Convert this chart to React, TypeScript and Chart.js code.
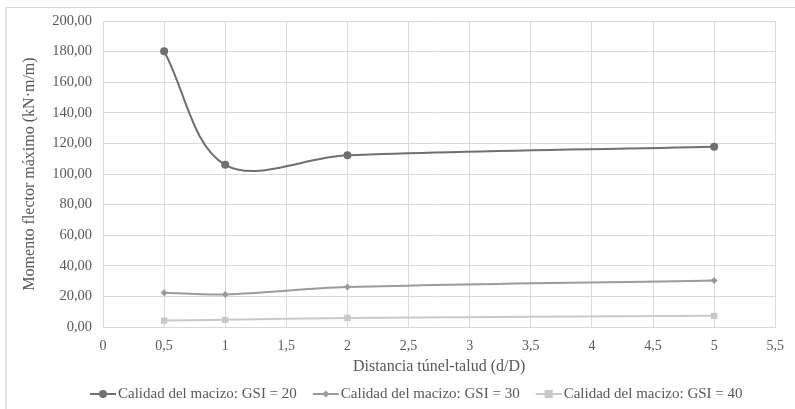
import React, { useEffect, useRef } from "react";
import { Chart, registerables } from "chart.js";

Chart.register(...registerables);

const distances = [0.5, 1, 2, 5];
const seriesNames = [
  "Calidad del macizo: GSI = 20",
  "Calidad del macizo: GSI = 30",
  "Calidad del macizo: GSI = 40",
];
const gsi20 = [180.2, 106.0, 112.2, 117.8];
const gsi30 = [22.4, 21.3, 26.1, 30.4];
const gsi40 = [4.2, 4.7, 5.9, 7.3];
const xTitle = "Distancia túnel-talud (d/D)";
const yTitle = "Momento flector máximo (kN·m/m)";

const FONT = "'Liberation Serif', 'Times New Roman', serif";
const TEXT = "#595959";
const GRID = "#d9d9d9";

const colors = ["#707070", "#9b9b9b", "#c9c9c9"];
const pointStyles = ["circle", "rectRot", "rect"];
const pointRadii = [4, 3.5, 4.5];

const legendPlugin = {
  id: "customLegend",
  afterDraw(chart: any) {
    const ctx = chart.ctx;
    ctx.save();
    ctx.font = "15px \"Liberation Serif\", serif";
    ctx.textBaseline = "middle";
    const y = 394;
    let x = 90;
    chart.data.datasets.forEach((ds: any) => {
      const lineLen = 26;
      ctx.strokeStyle = ds.borderColor;
      ctx.lineWidth = 2;
      ctx.beginPath();
      ctx.moveTo(x, y);
      ctx.lineTo(x + lineLen, y);
      ctx.stroke();
      ctx.fillStyle = ds.pointBackgroundColor;
      const r = ds.pointRadius;
      const cx = x + lineLen / 2;
      ctx.beginPath();
      if (ds.pointStyle === "circle") {
        ctx.arc(cx, y, r, 0, Math.PI * 2);
      } else if (ds.pointStyle === "rectRot") {
        ctx.moveTo(cx, y - r);
        ctx.lineTo(cx + r, y);
        ctx.lineTo(cx, y + r);
        ctx.lineTo(cx - r, y);
        ctx.closePath();
      } else {
        const s = r * 0.9;
        ctx.rect(cx - s, y - s, 2 * s, 2 * s);
      }
      ctx.fill();
      x += lineLen + 2;
      ctx.fillStyle = TEXT;
      ctx.fillText(ds.label, x, y);
      x += ctx.measureText(ds.label).width + 16;
    });
    ctx.restore();
  },
};

export default function App() {
  const ref = useRef<HTMLCanvasElement>(null);
  useEffect(() => {
    const seriesValues = [gsi20, gsi30, gsi40];
    const chart = new Chart(ref.current as HTMLCanvasElement, {
      type: "line",
      data: {
        datasets: seriesValues.map((vals, i) => ({
          label: seriesNames[i],
          data: distances.map((d, j) => ({ x: d, y: vals[j] })),
          borderColor: colors[i],
          backgroundColor: colors[i],
          pointBackgroundColor: colors[i],
          pointBorderColor: colors[i],
          pointStyle: pointStyles[i],
          pointRadius: pointRadii[i],
          pointBorderWidth: 0,
          borderWidth: 2,
          tension: 0.35,
          fill: false,
        })),
      },
      options: {
        animation: false,
        responsive: false,
        layout: { padding: { top: 21, right: 15, left: 0, bottom: 0 } },
        plugins: {
          legend: { display: false },
          tooltip: { enabled: false },
        },
        scales: {
          x: {
            type: "linear",
            min: 0,
            max: 5.5,
            ticks: {
              stepSize: 0.5,
              color: TEXT,
              font: { family: FONT, size: 14 },
              padding: 11,
              maxRotation: 0,
              callback: (v: any) => String(v).replace(".", ","),
            },
            grid: { color: GRID, drawTicks: false, lineWidth: 1 },
            border: { color: GRID },
            title: {
              display: true,
              text: xTitle,
              color: TEXT,
              font: { family: FONT, size: 16 },
              padding: { top: 0, bottom: 33 },
            },
            afterFit: (s: any) => {
              s.height = 82;
            },
          },
          y: {
            min: 0,
            max: 200,
            ticks: {
              stepSize: 20,
              color: TEXT,
              font: { family: FONT, size: 14.5 },
              padding: 11,
              callback: (v: any) => Number(v).toFixed(2).replace(".", ","),
            },
            grid: { color: GRID, drawTicks: false, lineWidth: 1 },
            border: { color: GRID },
            title: {
              display: true,
              text: yTitle,
              color: TEXT,
              font: { family: FONT, size: 16 },
              padding: { top: 20, bottom: 0 },
            },
            afterFit: (s: any) => {
              s.width = 103;
            },
          },
        },
      },
      plugins: [legendPlugin],
    });
    return () => chart.destroy();
  }, []);

  return (
    <div style={{ position: "fixed", left: 0, top: 0, width: 795, height: 409, overflow: "hidden", background: "#fff" }}>
      <div
        style={{
          position: "absolute",
          left: 5,
          top: 7,
          width: 820,
          height: 430,
          borderTop: "1px solid #d9d9d9",
          borderLeft: "2px solid #e3e3e3",
        }}
      />
      <canvas ref={ref} width={795} height={409} style={{ position: "absolute", left: 0, top: 0 }} />
    </div>
  );
}
